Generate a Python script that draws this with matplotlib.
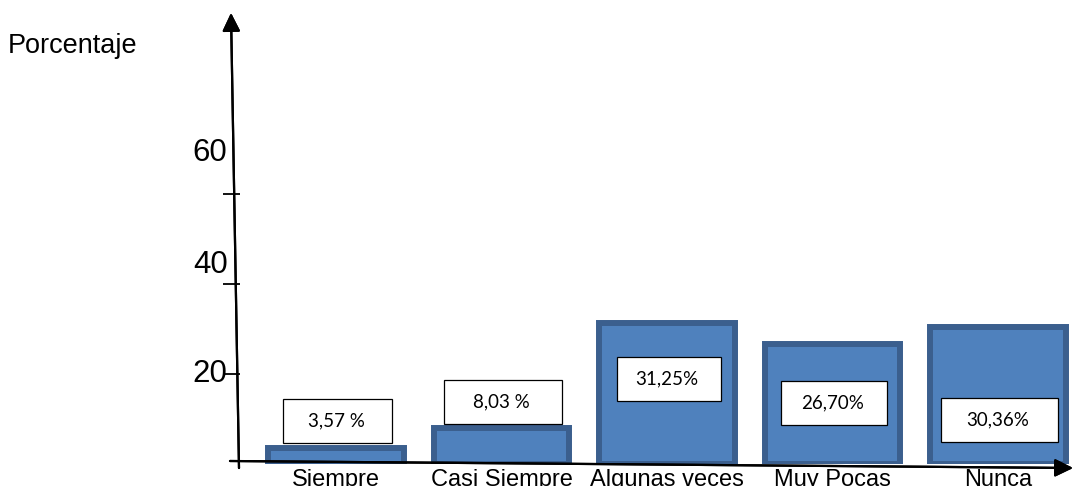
import matplotlib
matplotlib.use("Agg")
import matplotlib.pyplot as plt
from matplotlib.patches import Rectangle

# respuestas por categoria (%)
categorias = ["Siempre", "Casi Siempre", "Algunas veces", "Muy Pocas", "Nunca"]
porcentajes = [3.57, 8.03, 31.25, 26.70, 30.36]
etiquetas = ["3,57 %", "8,03 %", "31,25%", "26,70%", "30,36%"]
yticks = [20, 40, 60]

# altura de cada recuadro de etiqueta (en unidades del eje)
pos_etiqueta = [9.6, 13.8, 18.9, 13.6, 9.8]
ancho_caja = [0.66, 0.71, 0.63, 0.64, 0.71]
alto_caja = 9.8

relleno = "#4f81bd"
borde = "#3b5f8e"

plt.rcParams["font.family"] = ["Liberation Sans", "DejaVu Sans"]

fig = plt.figure(figsize=(10.73, 4.86), dpi=100)
W, H = 1073, 486
ax = fig.add_axes([240 / W, 22 / H, 835 / W, 450 / H])
ax.set_xlim(-0.58, 4.465)
ax.set_ylim(0, 100)

x = range(len(categorias))
ax.bar(x, porcentajes, width=0.82, color=relleno, edgecolor=borde,
       linewidth=4.3, zorder=2)

for i, (txt, yc) in enumerate(zip(etiquetas, pos_etiqueta)):
    w = ancho_caja[i]
    ax.add_patch(Rectangle((i - w / 2 + 0.01, yc - alto_caja / 2), w, alto_caja,
                           facecolor="white", edgecolor="black", linewidth=0.9,
                           zorder=3))
    ax.text(i, yc, txt, ha="center", va="center", fontsize=13.5,
            family=["Lato", "DejaVu Sans"], zorder=4)

for s in ax.spines.values():
    s.set_visible(False)

ax.set_xticks(list(x))
ax.set_xticklabels(categorias, fontsize=17)
ax.tick_params(axis="x", length=0, pad=3.5)

# marcas del eje y con sus numeros encima
ax.set_yticks(yticks)
ax.set_yticklabels([])
ax.tick_params(axis="y", direction="out", length=12, width=1.3, color="black")
desplaz = [-6, 8, 24]
for v, d in zip(yticks, desplaz):
    ax.annotate(str(v), xy=(0, v), xycoords=("axes fraction", "data"),
                xytext=(-9, d), textcoords="offset points",
                ha="right", va="baseline", fontsize=22.5)

# ejes dibujados a mano, con punta de flecha
flecha = dict(arrowstyle="-|>,head_length=0.55,head_width=0.27",
              color="black", lw=1.6, mutation_scale=20, shrinkA=0, shrinkB=0)
fig.add_artist(ax.annotate("", xy=(231, H - 13), xytext=(239, H - 468),
                           xycoords="figure pixels", textcoords="figure pixels",
                           arrowprops=flecha, annotation_clip=False))
fig.add_artist(ax.annotate("", xy=(1073, H - 468), xytext=(230, H - 461),
                           xycoords="figure pixels", textcoords="figure pixels",
                           arrowprops=flecha, annotation_clip=False))

fig.text(8 / W, 1 - 53 / H, "Porcentaje", fontsize=19.5, va="baseline")

fig.savefig("out.png", dpi=100)
